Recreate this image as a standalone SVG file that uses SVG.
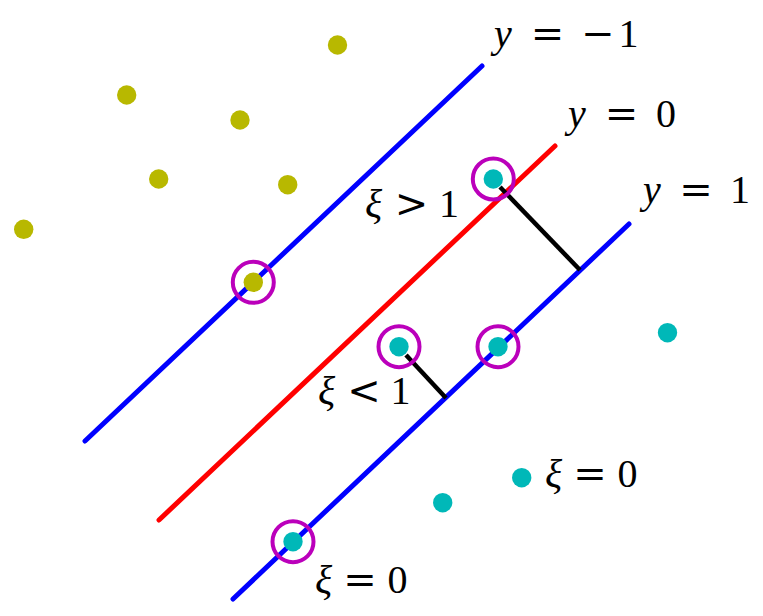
<svg xmlns="http://www.w3.org/2000/svg" width="763" height="616" viewBox="0 0 763 616">
<style>
.yd{fill:#b8b800}
.cd{fill:#00b8b8}
.ring{fill:none;stroke:#bb00bb;stroke-width:4}
.bl{stroke:#0000ff;stroke-width:5;stroke-linecap:round;fill:none}
.rd{stroke:#ff0000;stroke-width:5;stroke-linecap:round;fill:none}
.sl{stroke:#000;stroke-width:4.5;fill:none}
text{font-family:"Liberation Serif","DejaVu Serif",serif;font-size:40px;fill:#000}
.it{font-style:italic}
.op{font-family:"DejaVu Serif",serif;font-weight:normal}
</style>
<rect width="763" height="616" fill="#fff"/>
<g id="connectors">
<line class="bl" x1="85" y1="441" x2="482" y2="66"/>
<line class="rd" x1="159" y1="520" x2="555" y2="146"/>
<line class="bl" x1="233" y1="599" x2="629" y2="224"/>
<line class="sl" x1="500" y1="187" x2="580" y2="270"/>
<line class="sl" x1="406" y1="355" x2="446" y2="398"/>
</g>
<g id="yellow-points">
<g id="p1"><circle class="yd" cx="337.5" cy="45" r="9.7"/></g>
<g id="p2"><circle class="yd" cx="126.7" cy="95" r="9.7"/></g>
<g id="p3"><circle class="yd" cx="240" cy="120" r="9.7"/></g>
<g id="p4"><circle class="yd" cx="158.7" cy="179" r="9.7"/></g>
<g id="p5"><circle class="yd" cx="287.7" cy="184.7" r="9.7"/></g>
<g id="p6"><circle class="yd" cx="23.7" cy="229.3" r="9.7"/></g>
<g id="p7"><circle class="yd" cx="253.3" cy="282.3" r="9.7"/><circle class="ring" cx="253.3" cy="282.3" r="20.5"/></g>
</g>
<g id="cyan-points">
<g id="c1"><circle class="cd" cx="493.3" cy="179" r="9.7"/><circle class="ring" cx="493.3" cy="179" r="20.5"/></g>
<g id="c2"><circle class="cd" cx="399" cy="346.7" r="9.7"/><circle class="ring" cx="399" cy="346.7" r="20.5"/></g>
<g id="c3"><circle class="cd" cx="498" cy="346.7" r="9.7"/><circle class="ring" cx="498" cy="346.7" r="20.5"/></g>
<g id="c4"><circle class="cd" cx="667.5" cy="332.7" r="9.7"/></g>
<g id="c5"><circle class="cd" cx="521.7" cy="477.7" r="9.7"/></g>
<g id="c6"><circle class="cd" cx="442.7" cy="502.7" r="9.7"/></g>
<g id="c7"><circle class="cd" cx="293" cy="541.7" r="9.7"/><circle class="ring" cx="293" cy="541.7" r="20.5"/></g>
</g>
<g id="labels">
<text y="47"><tspan class="it" x="494">y</tspan><tspan class="op" x="530.7">=</tspan><tspan class="op" x="581.2">−</tspan><tspan x="618.5">1</tspan></text>
<text y="127"><tspan class="it" x="568">y</tspan><tspan class="op" x="604.7">=</tspan><tspan x="656">0</tspan></text>
<text y="203"><tspan class="it" x="643">y</tspan><tspan class="op" x="679.2">=</tspan><tspan x="730">1</tspan></text>
<text y="217"><tspan class="it" x="365">ξ</tspan><tspan class="op" x="394.7">&gt;</tspan><tspan x="439">1</tspan></text>
<text y="404"><tspan class="it" x="318">ξ</tspan><tspan class="op" x="347.2">&lt;</tspan><tspan x="390.5">1</tspan></text>
<text y="593"><tspan class="it" x="315">ξ</tspan><tspan class="op" x="343.2">=</tspan><tspan x="387.5">0</tspan></text>
<text y="487"><tspan class="it" x="545">ξ</tspan><tspan class="op" x="573.2">=</tspan><tspan x="617.5">0</tspan></text>
</g>
</svg>
